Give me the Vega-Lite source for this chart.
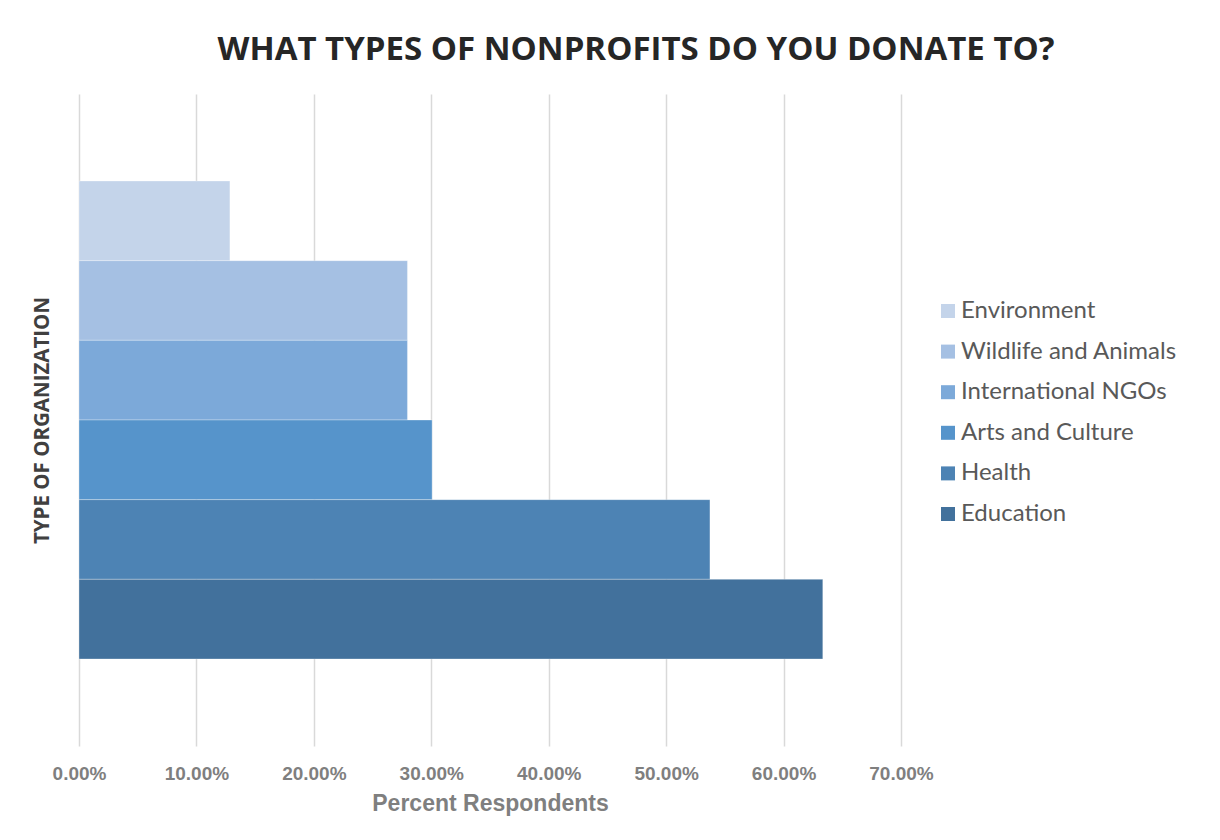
{
  "$schema": "https://vega.github.io/schema/vega-lite/v6.json",
  "autosize": {"type": "none"},
  "width": 822,
  "height": 652,
  "padding": {"left": 79, "top": 94, "right": 319, "bottom": 94},
  "background": "white",
  "title": {
    "text": "WHAT TYPES OF NONPROFITS DO YOU DONATE TO?",
    "font": "Open Sans",
    "fontSize": 33,
    "fontWeight": "bold",
    "color": "#262626",
    "anchor": "middle",
    "dx": 146,
    "offset": 27
  },
  "data": {
    "values": [
      {"group": "Type of Organization", "type": "Environment", "pct": 0.1285},
      {"group": "Type of Organization", "type": "Wildlife and Animals", "pct": 0.2797},
      {"group": "Type of Organization", "type": "International NGOs", "pct": 0.2797},
      {"group": "Type of Organization", "type": "Arts and Culture", "pct": 0.3007},
      {"group": "Type of Organization", "type": "Health", "pct": 0.5373},
      {"group": "Type of Organization", "type": "Education", "pct": 0.6334}
    ]
  },
  "mark": {"type": "bar", "stroke": "white", "strokeWidth": 1, "strokeOpacity": 0.3},
  "encoding": {
    "y": {
      "field": "group",
      "type": "nominal",
      "scale": {"paddingInner": 0, "paddingOuter": 0.182},
      "axis": {
        "title": "TYPE OF ORGANIZATION",
        "labels": false,
        "ticks": false,
        "domain": false,
        "grid": false,
        "titleFont": "Open Sans",
        "titleFontSize": 20.5,
        "titleFontWeight": "bold",
        "titleColor": "#404040",
        "titlePadding": 27
      }
    },
    "yOffset": {
      "field": "type",
      "type": "nominal",
      "sort": ["Environment", "Wildlife and Animals", "International NGOs", "Arts and Culture", "Health", "Education"],
      "scale": {"paddingInner": 0, "paddingOuter": 0}
    },
    "x": {
      "field": "pct",
      "type": "quantitative",
      "scale": {"domain": [0, 0.7], "nice": false},
      "axis": {
        "title": "Percent Respondents",
        "format": ".2%",
        "values": [0, 0.1, 0.2, 0.3, 0.4, 0.5, 0.6, 0.7],
        "ticks": false,
        "domain": false,
        "grid": true,
        "gridColor": "#d9d9d9",
        "gridWidth": 1.5,
        "labelFlush": false,
        "labelFont": "Liberation Sans",
        "labelFontSize": 19,
        "labelFontWeight": "bold",
        "labelColor": "#7f7f7f",
        "labelPadding": 18,
        "titleFont": "Liberation Sans",
        "titleFontSize": 23,
        "titleFontWeight": "bold",
        "titleColor": "#7f7f7f",
        "titlePadding": 9
      }
    },
    "color": {
      "field": "type",
      "type": "nominal",
      "sort": ["Environment", "Wildlife and Animals", "International NGOs", "Arts and Culture", "Health", "Education"],
      "scale": {
        "domain": ["Environment", "Wildlife and Animals", "International NGOs", "Arts and Culture", "Health", "Education"],
        "range": ["#C4D4EA", "#A5C0E3", "#7CA9D9", "#5694CB", "#4D83B4", "#42719C"]
      },
      "legend": {
        "title": null,
        "orient": "none",
        "legendX": 857,
        "legendY": 205,
        "symbolType": "square",
        "symbolSize": 196,
        "symbolStrokeWidth": 0,
        "labelFont": "Lato",
        "labelFontSize": 24,
        "labelColor": "#595959",
        "labelOffset": 1,
        "rowPadding": 16.6,
        "labelLimit": 300
      }
    }
  },
  "config": {
    "view": {"stroke": null}
  }
}
